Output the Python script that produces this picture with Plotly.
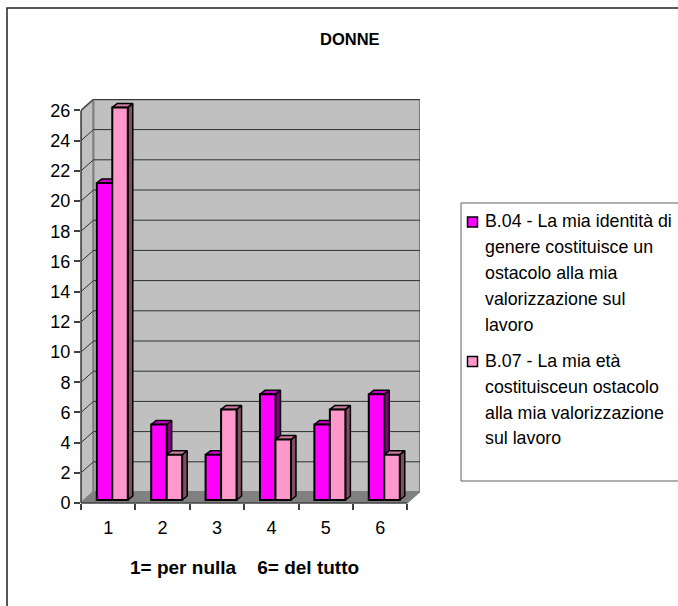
import plotly.graph_objects as go

W, H = 678, 606
categories = [1, 2, 3, 4, 5, 6]
b04 = [21, 5, 3, 7, 5, 7]
b07 = [26, 3, 6, 4, 6, 3]
y_ticks = list(range(0, 27, 2))
legend_b04 = ["B.04 - La mia identità di", "genere costituisce un", "ostacolo alla mia", "valorizzazione sul", "lavoro"]
legend_b07 = ["B.07 - La mia età", "costituisceun ostacolo", "alla mia valorizzazione", "sul lavoro"]
title_text = "DONNE"
x_title = "1= per nulla    6= del tutto"

# plot box in pixels
L, R, T, B = 81, 420, 99, 503
PXU, PYU = 54.4, 15.1
FONT = "Liberation Sans"
xr = [0.5, 0.5 + (R - L) / PXU]
yr = [0, (B - T) / PYU]
# wall depth, bar depth, in data units
WX, WY = 12.5 / PXU, 11 / PYU
DX, DY = 5 / PXU, 4 / PYU
BASE = 3 / PYU
XN = 6.5
YM = 26

def poly(xs, ys, fill, line="black", lw=1.5):
    return go.Scatter(x=xs + xs[:1], y=ys + ys[:1], mode="lines", fill="toself", fillcolor=fill,
                      line=dict(color=line, width=lw), hoverinfo="skip", showlegend=False)

fig = go.Figure()
# walls and floor
fig.add_trace(poly([0.5, 0.5 + WX, 0.5 + WX, 0.5], [0, WY, YM + WY, YM], "#c0c0c0", "#808080", 2))
fig.add_trace(poly([0.5 + WX, XN + WX, XN + WX, 0.5 + WX], [WY, WY, YM + WY, YM + WY], "#c0c0c0", "#808080", 2))
fig.add_trace(poly([0.5, XN, XN + WX, 0.5 + WX], [0, 0, WY, WY], "#808080", "#808080", 1))
# gridlines
for v in y_ticks[1:]:
    fig.add_trace(go.Scatter(x=[0.5, 0.5 + WX, XN + WX], y=[v, v + WY, v + WY], mode="lines",
                             line=dict(color="#303030", width=1), hoverinfo="skip", showlegend=False))

X1, X2, X3 = -0.21, 0.075, 0.36
series = [(b04, X1, X2, "#ff00ff", "#cc00cc", "#800080", "B.04"),
          (b07, X2, X3, "#ff99cc", "#cc7aa3", "#804d66", "B.07")]
for i, c in enumerate(categories):
    for vals, a, b, front, top, side, name in series:
        v = vals[i]
        xa, xb = c + a, c + b
        yb, yt = BASE, v + BASE
        fig.add_trace(poly([xb, xb + DX, xb + DX, xb], [yb, yb + DY, yt + DY, yt], side))
        fig.add_trace(poly([xa, xb, xb + DX, xa + DX], [yt, yt, yt + DY, yt + DY], top))
        # Front faces live on an overlaying axis pair so they draw above the side faces
        fig.add_trace(go.Bar(x=[c], y=[v], base=[BASE], offset=a, width=b - a, name=name,
                             xaxis="x2", yaxis="y2",
                             marker=dict(color=front, line=dict(color="black", width=2)),
                             showlegend=False))

def pxp(px):
    return (px - L) / (R - L)
def pyp(py):
    return (B - py) / (B - T)

shapes = [
    # chart frame
    dict(type="rect", xref="paper", yref="paper", x0=pxp(7), x1=pxp(700), y0=pyp(8), y1=pyp(620),
         line=dict(color="#202020", width=1.5), fillcolor="rgba(0,0,0,0)", layer="below"),
    # legend box
    dict(type="rect", xref="paper", yref="paper", x0=pxp(461), x1=pxp(700), y0=pyp(203), y1=pyp(481),
         line=dict(color="#606060", width=1), fillcolor="white"),
    dict(type="rect", xref="paper", yref="paper", x0=pxp(467.5), x1=pxp(477.5), y0=pyp(217), y1=pyp(227),
         line=dict(color="black", width=1.5), fillcolor="#ff00ff"),
    dict(type="rect", xref="paper", yref="paper", x0=pxp(467.5), x1=pxp(477.5), y0=pyp(356.5), y1=pyp(366.5),
         line=dict(color="black", width=1.5), fillcolor="#ff99cc"),
    # y axis, x axis
    dict(type="line", xref="paper", yref="y", x0=0, x1=0, y0=0, y1=YM, line=dict(color="#404040", width=1.5)),
    dict(type="line", xref="x", yref="paper", x0=0.5, x1=XN, y0=0, y1=0, line=dict(color="#404040", width=1.5)),
]

anns = [
    dict(text=title_text, x=pxp(350), y=pyp(39), font=dict(size=16.5, family=FONT, color="black", weight="bold")),
    dict(text=x_title, x=pxp(244), y=pyp(567), font=dict(size=19, family=FONT, color="black", weight="bold")),
]
for k, t in enumerate(legend_b04):
    anns.append(dict(text=t, x=pxp(483), y=pyp(221 + 26 * k), xanchor="left",
                     font=dict(size=17.8, family=FONT, color="black")))
for k, t in enumerate(legend_b07):
    anns.append(dict(text=t, x=pxp(483), y=pyp(361 + 25.8 * k), xanchor="left",
                     font=dict(size=17.8, family=FONT, color="black")))
for a in anns:
    a.update(xref="paper", yref="paper", showarrow=False)
    a.setdefault("xanchor", "center")
    a.setdefault("yanchor", "middle")

fig.update_layout(
    width=W, height=H, autosize=False, margin=dict(l=L, r=W - R, t=T, b=H - B, pad=0),
    paper_bgcolor="white", plot_bgcolor="white", showlegend=False, barmode="overlay",
    shapes=shapes, annotations=anns,
    xaxis=dict(range=xr, tickmode="array", tickvals=categories, ticktext=[str(c) for c in categories],
               ticks="", showgrid=False, zeroline=False, showline=False, ticklabelstandoff=12,
               tickfont=dict(size=18, family=FONT, color="black"),
               minor=dict(tickmode="array", tickvals=[0.5 + i for i in range(7)], ticks="outside", ticklen=6,
                          tickcolor="#404040", tickwidth=1.5, showgrid=False)),
    yaxis=dict(range=yr, tickmode="array", tickvals=y_ticks, ticks="outside", ticklen=6, tickcolor="#404040",
               tickwidth=1.5, showgrid=False, zeroline=False, showline=False,
               tickfont=dict(size=18, family=FONT, color="black")),
    xaxis2=dict(range=xr, overlaying="x", visible=False),
    yaxis2=dict(range=yr, overlaying="y", visible=False),
)
fig.write_html("out.html", config={"displayModeBar": False}, post_script="document.body.style.margin='0';")
